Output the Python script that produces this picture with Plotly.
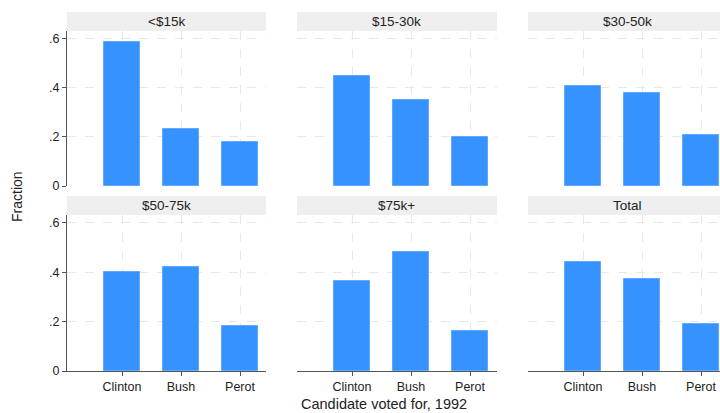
import plotly.graph_objects as go
from plotly.subplots import make_subplots

# fraction voting for each candidate, by family income
candidates = ["Clinton", "Bush", "Perot"]
cand_codes = [1, 2, 3]
panels = ["<$15k", "$15-30k", "$30-50k", "$50-75k", "$75k+", "Total"]
lt15 = [0.588, 0.231, 0.181]
k15_30 = [0.449, 0.351, 0.201]
k30_50 = [0.408, 0.380, 0.209]
k50_75 = [0.403, 0.423, 0.182]
k75plus = [0.363, 0.483, 0.162]
total = [0.440, 0.374, 0.191]
values = [lt15, k15_30, k30_50, k50_75, k75plus, total]

y_ticks = [0, 0.2, 0.4, 0.6]
y_labels = ["0", ".2", ".4", ".6"]

W, H = 720, 413
L, R, T, B = 67, 0, 31, 42
pw, ph = W - L - R, H - T - B

def px_x(p):
    return (p - L) / pw

def px_y(p):
    return (H - B - p) / ph

col_dom = [(px_x(67), px_x(266)), (px_x(297), px_x(497)), (px_x(528), 1.0)]
row_dom = [(px_y(186), 1.0), (0.0, px_y(215))]
unit = 59.0  # px per category step
bar_color = "#3592ff"
grid_color = "#e8e8e8"
axis_color = "#555555"
font = "Liberation Sans, Arial, sans-serif"

fig = make_subplots(rows=2, cols=3)

for i, name in enumerate(panels):
    r, c = i // 3, i % 3
    fig.add_trace(go.Bar(x=cand_codes, y=values[i], width=0.6,
                         marker=dict(color=bar_color, line=dict(color="#5fa9ff", width=1)),
                         showlegend=False, hoverinfo="y"),
                  row=r + 1, col=c + 1)
    x0d, x1d = col_dom[c]
    y0d, y1d = row_dom[r]
    width_px = (x1d - x0d) * pw
    x_lo = 1 - 55 / unit
    fig.update_xaxes(domain=[x0d, x1d], range=[x_lo, x_lo + width_px / unit],
                     tickvals=cand_codes, ticktext=candidates, automargin=False,
                     showticklabels=(r == 1), ticks="outside" if r == 1 else "",
                     ticklen=4, tickcolor=axis_color,
                     showline=(r == 1), linecolor=axis_color, linewidth=1,
                     showgrid=True, gridcolor=grid_color, griddash="dash", gridwidth=1,
                     zeroline=False, tickfont=dict(size=12.5, color="#222"),
                     row=r + 1, col=c + 1)
    fig.update_yaxes(domain=[y0d, y1d], range=[0, 0.632],
                     tickvals=y_ticks, ticktext=y_labels, automargin=False,
                     showticklabels=(c == 0), ticks="outside" if c == 0 else "",
                     ticklen=4, tickcolor=axis_color,
                     showline=(c == 0), linecolor=axis_color, linewidth=1,
                     showgrid=True, gridcolor=grid_color, griddash="dash", gridwidth=1,
                     zeroline=False, tickfont=dict(size=12.5, color="#222"),
                     row=r + 1, col=c + 1)
    # strip header
    s_top = y1d + 19 / ph
    fig.add_shape(type="rect", xref="paper", yref="paper",
                  x0=x0d, x1=x1d + (0.02 if c == 2 else 0), y0=y1d, y1=s_top,
                  fillcolor="#efefef", line=dict(width=0), layer="below")
    x_center = x0d + 199 / pw / 2
    fig.add_annotation(text=name, xref="paper", yref="paper",
                       x=x_center, y=(y1d + s_top) / 2, showarrow=False,
                       font=dict(size=13.5, color="#222"), xanchor="center", yanchor="middle")

fig.add_annotation(text="Fraction", xref="paper", yref="paper",
                   x=px_x(17), y=px_y(197), textangle=-90, showarrow=False,
                   font=dict(size=14, color="#222"), xanchor="center", yanchor="middle")
fig.add_annotation(text="Candidate voted for, 1992", xref="paper", yref="paper",
                   x=px_x(384), y=px_y(404), showarrow=False,
                   font=dict(size=14.5, color="#222"), xanchor="center", yanchor="middle")

fig.update_layout(width=W, height=H, margin=dict(l=L, r=R, t=T, b=B, autoexpand=False),
                  plot_bgcolor="white", paper_bgcolor="white",
                  font=dict(family=font), bargap=0)

# page body has a default 8px margin; drop it so the figure sits at the corner
fig.write_html("out.html", config={"displayModeBar": False},
               post_script="document.body.style.margin='0';")
